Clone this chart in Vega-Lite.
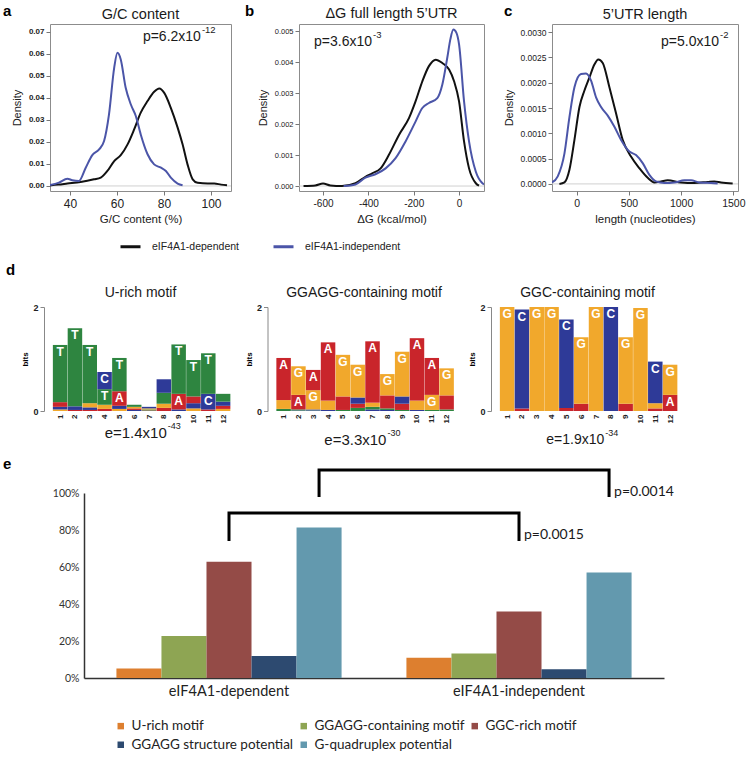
{
 "$schema": "https://vega.github.io/schema/vega-lite/v6.json",
 "padding": {"left": 2, "top": 3, "right": 5, "bottom": 5},
 "background": "white",
 "config": {
  "view": {"stroke": null},
  "font": "Liberation Sans",
  "axis": {"labelFont": "Liberation Sans", "titleFont": "Liberation Sans", "labelOverlap": false},
  "legend": {"labelFont": "Liberation Sans"},
  "title": {"font": "Liberation Sans"}
 },
 "datasets": {
  "gc": [
   {"g":"eIF4A1-dependent","x":31,"d":0.0002},{"g":"eIF4A1-dependent","x":35,"d":0.0006},{"g":"eIF4A1-dependent","x":38.9,"d":0.0011},{"g":"eIF4A1-dependent","x":44.5,"d":0.0018},{"g":"eIF4A1-dependent","x":50.2,"d":0.003},{"g":"eIF4A1-dependent","x":53.1,"d":0.0038},{"g":"eIF4A1-dependent","x":55.9,"d":0.0068},{"g":"eIF4A1-dependent","x":58.8,"d":0.0113},{"g":"eIF4A1-dependent","x":61.6,"d":0.014},{"g":"eIF4A1-dependent","x":64.5,"d":0.0189},{"g":"eIF4A1-dependent","x":67.3,"d":0.0257},{"g":"eIF4A1-dependent","x":70.1,"d":0.0333},{"g":"eIF4A1-dependent","x":73,"d":0.0386},{"g":"eIF4A1-dependent","x":75.8,"d":0.0428},{"g":"eIF4A1-dependent","x":78,"d":0.0443},{"g":"eIF4A1-dependent","x":80.1,"d":0.0423},{"g":"eIF4A1-dependent","x":82.9,"d":0.0355},{"g":"eIF4A1-dependent","x":85.8,"d":0.0265},{"g":"eIF4A1-dependent","x":87.9,"d":0.0189},{"g":"eIF4A1-dependent","x":90,"d":0.0098},{"g":"eIF4A1-dependent","x":92.2,"d":0.003},{"g":"eIF4A1-dependent","x":94.3,"d":0.0014},{"g":"eIF4A1-dependent","x":98.6,"d":0.0011},{"g":"eIF4A1-dependent","x":101.4,"d":0.0011},{"g":"eIF4A1-dependent","x":104.3,"d":0.0006},{"g":"eIF4A1-dependent","x":106.8,"d":0.0003},
   {"g":"eIF4A1-independent","x":31,"d":0.0003},{"g":"eIF4A1-independent","x":35.3,"d":0.0015},{"g":"eIF4A1-independent","x":38.9,"d":0.0033},{"g":"eIF4A1-independent","x":41,"d":0.0026},{"g":"eIF4A1-independent","x":43.8,"d":0.0023},{"g":"eIF4A1-independent","x":46.7,"d":0.0083},{"g":"eIF4A1-independent","x":49.5,"d":0.014},{"g":"eIF4A1-independent","x":52.4,"d":0.0166},{"g":"eIF4A1-independent","x":54.5,"d":0.0204},{"g":"eIF4A1-independent","x":56.6,"d":0.0325},{"g":"eIF4A1-independent","x":58.8,"d":0.0537},{"g":"eIF4A1-independent","x":60.2,"d":0.0605},{"g":"eIF4A1-independent","x":61.6,"d":0.0575},{"g":"eIF4A1-independent","x":63.7,"d":0.0446},{"g":"eIF4A1-independent","x":65.9,"d":0.037},{"g":"eIF4A1-independent","x":68,"d":0.0318},{"g":"eIF4A1-independent","x":70.1,"d":0.0234},{"g":"eIF4A1-independent","x":73,"d":0.0144},{"g":"eIF4A1-independent","x":75.8,"d":0.0098},{"g":"eIF4A1-independent","x":78.7,"d":0.0083},{"g":"eIF4A1-independent","x":80.8,"d":0.0068},{"g":"eIF4A1-independent","x":82.9,"d":0.0038},{"g":"eIF4A1-independent","x":85.8,"d":0.0011},{"g":"eIF4A1-independent","x":87.9,"d":0.0003}
  ],
  "dg": [
   {"g":"eIF4A1-dependent","x":-686,"d":0},{"g":"eIF4A1-dependent","x":-634,"d":0.00002},{"g":"eIF4A1-dependent","x":-600,"d":0.00008},{"g":"eIF4A1-dependent","x":-568,"d":0.00002},{"g":"eIF4A1-dependent","x":-516,"d":0},{"g":"eIF4A1-dependent","x":-457,"d":0.00009},{"g":"eIF4A1-dependent","x":-413,"d":0.0003},{"g":"eIF4A1-dependent","x":-383,"d":0.00041},{"g":"eIF4A1-dependent","x":-346,"d":0.00057},{"g":"eIF4A1-dependent","x":-310,"d":0.001},{"g":"eIF4A1-dependent","x":-265,"d":0.00165},{"g":"eIF4A1-dependent","x":-221,"d":0.00219},{"g":"eIF4A1-dependent","x":-192,"d":0.00273},{"g":"eIF4A1-dependent","x":-162,"d":0.00338},{"g":"eIF4A1-dependent","x":-133,"d":0.00387},{"g":"eIF4A1-dependent","x":-103,"d":0.00408},{"g":"eIF4A1-dependent","x":-74,"d":0.00397},{"g":"eIF4A1-dependent","x":-44,"d":0.00376},{"g":"eIF4A1-dependent","x":-22,"d":0.00338},{"g":"eIF4A1-dependent","x":0,"d":0.00273},{"g":"eIF4A1-dependent","x":22,"d":0.00144},{"g":"eIF4A1-dependent","x":44,"d":0.00057},{"g":"eIF4A1-dependent","x":74,"d":0.00009},{"g":"eIF4A1-dependent","x":88,"d":0.00001},
   {"g":"eIF4A1-independent","x":-509,"d":0},{"g":"eIF4A1-independent","x":-457,"d":0.00005},{"g":"eIF4A1-independent","x":-413,"d":0.00027},{"g":"eIF4A1-independent","x":-369,"d":0.00038},{"g":"eIF4A1-independent","x":-324,"d":0.00057},{"g":"eIF4A1-independent","x":-280,"d":0.0009},{"g":"eIF4A1-independent","x":-236,"d":0.00144},{"g":"eIF4A1-independent","x":-192,"d":0.00208},{"g":"eIF4A1-independent","x":-162,"d":0.00252},{"g":"eIF4A1-independent","x":-133,"d":0.00268},{"g":"eIF4A1-independent","x":-96,"d":0.00284},{"g":"eIF4A1-independent","x":-74,"d":0.00327},{"g":"eIF4A1-independent","x":-52,"d":0.00414},{"g":"eIF4A1-independent","x":-38,"d":0.00475},{"g":"eIF4A1-independent","x":-25,"d":0.00505},{"g":"eIF4A1-independent","x":-12,"d":0.00495},{"g":"eIF4A1-independent","x":0,"d":0.00457},{"g":"eIF4A1-independent","x":22,"d":0.00273},{"g":"eIF4A1-independent","x":44,"d":0.00144},{"g":"eIF4A1-independent","x":74,"d":0.00046},{"g":"eIF4A1-independent","x":103,"d":0.00009},{"g":"eIF4A1-independent","x":110,"d":0.00005}
  ],
  "len": [
   {"g":"eIF4A1-dependent","x":-166,"d":0},{"g":"eIF4A1-dependent","x":-118,"d":0.00003},{"g":"eIF4A1-dependent","x":-70,"d":0.00028},{"g":"eIF4A1-dependent","x":-22,"d":0.00087},{"g":"eIF4A1-dependent","x":26,"d":0.00152},{"g":"eIF4A1-dependent","x":73,"d":0.00184},{"g":"eIF4A1-dependent","x":121,"d":0.0021},{"g":"eIF4A1-dependent","x":169,"d":0.00236},{"g":"eIF4A1-dependent","x":207,"d":0.00246},{"g":"eIF4A1-dependent","x":249,"d":0.00239},{"g":"eIF4A1-dependent","x":313,"d":0.00191},{"g":"eIF4A1-dependent","x":377,"d":0.00139},{"g":"eIF4A1-dependent","x":440,"d":0.00087},{"g":"eIF4A1-dependent","x":520,"d":0.00054},{"g":"eIF4A1-dependent","x":600,"d":0.00031},{"g":"eIF4A1-dependent","x":680,"d":0.00012},{"g":"eIF4A1-dependent","x":744,"d":0.00003},{"g":"eIF4A1-dependent","x":808,"d":0.00005},{"g":"eIF4A1-dependent","x":871,"d":0.00007},{"g":"eIF4A1-dependent","x":999,"d":0.00003},{"g":"eIF4A1-dependent","x":1127,"d":0.00002},{"g":"eIF4A1-dependent","x":1254,"d":0.00004},{"g":"eIF4A1-dependent","x":1318,"d":0.00005},{"g":"eIF4A1-dependent","x":1382,"d":0.00003},{"g":"eIF4A1-dependent","x":1494,"d":0.00001},
   {"g":"eIF4A1-independent","x":-236,"d":0.00003},{"g":"eIF4A1-independent","x":-182,"d":0.00015},{"g":"eIF4A1-independent","x":-118,"d":0.0006},{"g":"eIF4A1-independent","x":-70,"d":0.00132},{"g":"eIF4A1-independent","x":-22,"d":0.00191},{"g":"eIF4A1-independent","x":41,"d":0.00217},{"g":"eIF4A1-independent","x":89,"d":0.00218},{"g":"eIF4A1-independent","x":137,"d":0.00204},{"g":"eIF4A1-independent","x":185,"d":0.00171},{"g":"eIF4A1-independent","x":233,"d":0.00152},{"g":"eIF4A1-independent","x":297,"d":0.00135},{"g":"eIF4A1-independent","x":361,"d":0.00113},{"g":"eIF4A1-independent","x":425,"d":0.00087},{"g":"eIF4A1-independent","x":504,"d":0.00064},{"g":"eIF4A1-independent","x":568,"d":0.00057},{"g":"eIF4A1-independent","x":632,"d":0.00041},{"g":"eIF4A1-independent","x":696,"d":0.00018},{"g":"eIF4A1-independent","x":760,"d":0.00005},{"g":"eIF4A1-independent","x":839,"d":0.00002},{"g":"eIF4A1-independent","x":935,"d":0.00003},{"g":"eIF4A1-independent","x":1031,"d":0.00007},{"g":"eIF4A1-independent","x":1095,"d":0.00007},{"g":"eIF4A1-independent","x":1175,"d":0.00003},{"g":"eIF4A1-independent","x":1286,"d":0.00002},{"g":"eIF4A1-independent","x":1350,"d":0.00001}
  ],
  "urich": [
   {"pos":1,"base":"G","bits":0.03},{"pos":1,"base":"C","bits":0.05},{"pos":1,"base":"A","bits":0.09},{"pos":1,"base":"T","bits":1.1},
   {"pos":2,"base":"A","bits":0.02},{"pos":2,"base":"C","bits":0.07},{"pos":2,"base":"T","bits":1.5},
   {"pos":3,"base":"A","bits":0.02},{"pos":3,"base":"C","bits":0.05},{"pos":3,"base":"G","bits":0.08},{"pos":3,"base":"T","bits":1.12},
   {"pos":4,"base":"A","bits":0.04},{"pos":4,"base":"G","bits":0.08},{"pos":4,"base":"T","bits":0.3},{"pos":4,"base":"C","bits":0.33},
   {"pos":5,"base":"G","bits":0.04},{"pos":5,"base":"C","bits":0.06},{"pos":5,"base":"A","bits":0.28},{"pos":5,"base":"T","bits":0.64},
   {"pos":6,"base":"C","bits":0.02},{"pos":6,"base":"A","bits":0.03},{"pos":6,"base":"G","bits":0.03},{"pos":6,"base":"T","bits":0.04},
   {"pos":7,"base":"A","bits":0.01},{"pos":7,"base":"T","bits":0.02},{"pos":7,"base":"G","bits":0.02},{"pos":7,"base":"C","bits":0.03},
   {"pos":8,"base":"A","bits":0.06},{"pos":8,"base":"G","bits":0.08},{"pos":8,"base":"T","bits":0.21},{"pos":8,"base":"C","bits":0.26},
   {"pos":9,"base":"C","bits":0.03},{"pos":9,"base":"A","bits":0.3},{"pos":9,"base":"T","bits":0.95},
   {"pos":10,"base":"G","bits":0.05},{"pos":10,"base":"C","bits":0.1},{"pos":10,"base":"A","bits":0.13},{"pos":10,"base":"T","bits":0.7},
   {"pos":11,"base":"A","bits":0.03},{"pos":11,"base":"C","bits":0.3},{"pos":11,"base":"T","bits":0.78},
   {"pos":12,"base":"G","bits":0.04},{"pos":12,"base":"A","bits":0.06},{"pos":12,"base":"C","bits":0.08},{"pos":12,"base":"T","bits":0.15}
  ],
  "ggagg": [
   {"pos":1,"base":"T","bits":0.04},{"pos":1,"base":"G","bits":0.17},{"pos":1,"base":"A","bits":0.81},
   {"pos":2,"base":"C","bits":0.01},{"pos":2,"base":"T","bits":0.02},{"pos":2,"base":"A","bits":0.28},{"pos":2,"base":"G","bits":0.55},
   {"pos":3,"base":"T","bits":0.01},{"pos":3,"base":"C","bits":0.02},{"pos":3,"base":"G","bits":0.37},{"pos":3,"base":"A","bits":0.39},
   {"pos":4,"base":"C","bits":0.02},{"pos":4,"base":"G","bits":0.18},{"pos":4,"base":"A","bits":1.12},
   {"pos":5,"base":"T","bits":0.02},{"pos":5,"base":"A","bits":0.26},{"pos":5,"base":"G","bits":0.8},
   {"pos":6,"base":"T","bits":0.06},{"pos":6,"base":"A","bits":0.08},{"pos":6,"base":"C","bits":0.12},{"pos":6,"base":"G","bits":0.63},
   {"pos":7,"base":"C","bits":0.03},{"pos":7,"base":"T","bits":0.05},{"pos":7,"base":"G","bits":0.08},{"pos":7,"base":"A","bits":1.18},
   {"pos":8,"base":"C","bits":0.02},{"pos":8,"base":"T","bits":0.03},{"pos":8,"base":"A","bits":0.25},{"pos":8,"base":"G","bits":0.41},
   {"pos":9,"base":"T","bits":0.02},{"pos":9,"base":"A","bits":0.12},{"pos":9,"base":"C","bits":0.14},{"pos":9,"base":"G","bits":0.86},
   {"pos":10,"base":"C","bits":0.02},{"pos":10,"base":"G","bits":0.18},{"pos":10,"base":"A","bits":1.2},
   {"pos":11,"base":"T","bits":0.02},{"pos":11,"base":"G","bits":0.29},{"pos":11,"base":"A","bits":0.71},
   {"pos":12,"base":"T","bits":0.03},{"pos":12,"base":"A","bits":0.27},{"pos":12,"base":"G","bits":0.52}
  ],
  "ggc": [
   {"pos":1,"base":"G","bits":2.0},
   {"pos":2,"base":"A","bits":0.05},{"pos":2,"base":"C","bits":1.9},
   {"pos":3,"base":"G","bits":2.0},
   {"pos":4,"base":"G","bits":2.0},
   {"pos":5,"base":"A","bits":0.06},{"pos":5,"base":"C","bits":1.7},
   {"pos":6,"base":"A","bits":0.14},{"pos":6,"base":"G","bits":1.28},
   {"pos":7,"base":"G","bits":2.0},
   {"pos":8,"base":"C","bits":2.0},
   {"pos":9,"base":"A","bits":0.14},{"pos":9,"base":"G","bits":1.28},
   {"pos":10,"base":"G","bits":1.98},
   {"pos":11,"base":"A","bits":0.05},{"pos":11,"base":"G","bits":0.1},{"pos":11,"base":"C","bits":0.8},
   {"pos":12,"base":"A","bits":0.31},{"pos":12,"base":"G","bits":0.58}
  ],
  "bars": [
   {"group":"eIF4A1-dependent","cat":"U-rich motif","pct":5.2},
   {"group":"eIF4A1-dependent","cat":"GGAGG-containing motif","pct":22.7},
   {"group":"eIF4A1-dependent","cat":"GGC-rich motif","pct":62.9},
   {"group":"eIF4A1-dependent","cat":"GGAGG structure potential","pct":11.9},
   {"group":"eIF4A1-dependent","cat":"G-quadruplex potential","pct":81.3},
   {"group":"eIF4A1-independent","cat":"U-rich motif","pct":11.0},
   {"group":"eIF4A1-independent","cat":"GGAGG-containing motif","pct":13.2},
   {"group":"eIF4A1-independent","cat":"GGC-rich motif","pct":35.9},
   {"group":"eIF4A1-independent","cat":"GGAGG structure potential","pct":4.7},
   {"group":"eIF4A1-independent","cat":"G-quadruplex potential","pct":57.0}
  ],
  "brackets": [
   {"b":1,"seq":1,"group":"eIF4A1-dependent","cat":"GGC-rich motif","y":74},
   {"b":1,"seq":2,"group":"eIF4A1-dependent","cat":"GGC-rich motif","y":89.2},
   {"b":1,"seq":3,"group":"eIF4A1-independent","cat":"GGC-rich motif","y":89.2},
   {"b":1,"seq":4,"group":"eIF4A1-independent","cat":"GGC-rich motif","y":74},
   {"b":2,"seq":1,"group":"eIF4A1-dependent","cat":"G-quadruplex potential","y":97.8},
   {"b":2,"seq":2,"group":"eIF4A1-dependent","cat":"G-quadruplex potential","y":112.4},
   {"b":2,"seq":3,"group":"eIF4A1-independent","cat":"G-quadruplex potential","y":112.4},
   {"b":2,"seq":4,"group":"eIF4A1-independent","cat":"G-quadruplex potential","y":97.8}
  ],
  "plabels": [
   {"group":"eIF4A1-independent","cat":"GGC-rich motif","y":77.3,"label":"p=0.0015"},
   {"group":"eIF4A1-independent","cat":"G-quadruplex potential","y":100.5,"label":"p=0.0014"}
  ]
 },
 "vconcat": [
  {
   "hconcat": [
    {"width": 6, "height": 10, "data": {"values": []}, "mark": "point", "encoding": {}},
    {
     "hconcat": [
      {
       "width": 181, "height": 167,
       "view": {"stroke": "#8c8c8c"},
       "title": {"text": "G/C content", "fontSize": 14.5, "fontWeight": "normal", "offset": 6, "dy": 24, "color": "#1a1a1a"},
       "layer": [
        {"data": {"values": [{}]}, "mark": {"type": "rule", "color": "#d0d0d0", "strokeWidth": 1}, "encoding": {"y": {"datum": 0, "type": "quantitative"}}},
        {"data": {"name": "gc"}, "mark": {"type": "line", "strokeWidth": 2, "interpolate": "monotone", "clip": true},
         "encoding": {
          "x": {"field": "x", "type": "quantitative", "scale": {"domain": [31.5, 108.5], "nice": false, "zero": false},
                "axis": {"title": "G/C content  (%)", "values": [40, 60, 80, 100], "tickCount": 30, "grid": false, "domain": false, "tickSize": 4, "tickColor": "#777", "labelFontSize": 12, "labelColor": "#222", "labelPadding": 3, "titleFontSize": 11.5, "titleFontWeight": "normal", "titleColor": "#222", "titlePadding": 4}},
          "y": {"field": "d", "type": "quantitative", "scale": {"domain": [-0.0023, 0.0736], "nice": false, "zero": false},
                "axis": {"title": "Density", "values": [0, 0.01, 0.02, 0.03, 0.04, 0.05, 0.06, 0.07], "tickCount": 30, "format": ".2f", "grid": false, "domain": false, "tickSize": 4, "tickColor": "#777", "labelFontSize": 8, "labelFontWeight": "bold", "labelColor": "#222", "labelPadding": 2, "titleFontSize": 11, "titleFontWeight": "normal", "titleColor": "#222", "titlePadding": 6}},
          "color": {"field": "g", "type": "nominal", "scale": {"domain": ["eIF4A1-dependent", "eIF4A1-independent"], "range": ["#111111", "#4b55a8"]},
                    "legend": {"orient": "none", "legendX": 69, "legendY": 211, "direction": "horizontal", "columns": 2, "title": null, "symbolType": "stroke", "symbolStrokeWidth": 3, "symbolSize": 400, "labelFontSize": 10.5, "labelColor": "#222", "labelOffset": 10, "columnPadding": 28, "padding": 0}}
         }},
        {"data": {"values": [{}]}, "mark": {"type": "text", "align": "right", "baseline": "middle", "fontSize": 14, "color": "#1a1a1a"},
         "encoding": {"x": {"datum": 95.7, "type": "quantitative"}, "y": {"datum": 0.0677, "type": "quantitative"}, "text": {"value": "p=6.2x10"}}},
        {"data": {"values": [{}]}, "mark": {"type": "text", "align": "left", "baseline": "middle", "fontSize": 9.5, "dx": 1, "dy": -7, "color": "#1a1a1a"},
         "encoding": {"x": {"datum": 95.7, "type": "quantitative"}, "y": {"datum": 0.0677, "type": "quantitative"}, "text": {"value": "-12"}}},
        {"data": {"values": [{}]}, "mark": {"type": "text", "align": "left", "baseline": "middle", "fontSize": 15, "fontWeight": "bold", "color": "#000"},
         "encoding": {"x": {"datum": 11.5, "type": "quantitative"}, "y": {"datum": 0.0795, "type": "quantitative"}, "text": {"value": "a"}}}
       ]
      },
      {
       "width": 185, "height": 167,
       "view": {"stroke": "#8c8c8c"},
       "title": {"text": "ΔG full length 5’UTR", "fontSize": 14.5, "fontWeight": "normal", "offset": 6, "dy": 24, "color": "#1a1a1a"},
       "layer": [
        {"data": {"values": [{}]}, "mark": {"type": "rule", "color": "#d0d0d0", "strokeWidth": 1}, "encoding": {"y": {"datum": 0, "type": "quantitative"}}},
        {"data": {"name": "dg"}, "mark": {"type": "line", "strokeWidth": 2, "interpolate": "monotone", "clip": true},
         "encoding": {
          "x": {"field": "x", "type": "quantitative", "scale": {"domain": [-706, 110], "nice": false, "zero": false},
                "axis": {"title": "ΔG (kcal/mol)", "values": [-600, -400, -200, 0], "tickCount": 30, "labelExpr": "'' + datum.value", "grid": false, "domain": false, "tickSize": 4, "tickColor": "#777", "labelFontSize": 10, "labelColor": "#222", "labelPadding": 3, "titleFontSize": 11.5, "titleFontWeight": "normal", "titleColor": "#222", "titlePadding": 5}},
          "y": {"field": "d", "type": "quantitative", "scale": {"domain": [-0.00016, 0.00523], "nice": false, "zero": false},
                "axis": {"title": "Density", "values": [0, 0.001, 0.002, 0.003, 0.004, 0.005], "tickCount": 30, "format": ".3f", "grid": false, "domain": false, "tickSize": 4, "tickColor": "#777", "labelFontSize": 7.5, "labelColor": "#222", "labelPadding": 2, "titleFontSize": 11, "titleFontWeight": "normal", "titleColor": "#222", "titlePadding": 6}},
          "color": {"field": "g", "type": "nominal", "scale": {"domain": ["eIF4A1-dependent", "eIF4A1-independent"], "range": ["#111111", "#4b55a8"]}, "legend": null}
         }},
        {"data": {"values": [{}]}, "mark": {"type": "text", "align": "right", "baseline": "middle", "fontSize": 14, "color": "#1a1a1a"},
         "encoding": {"x": {"datum": -384, "type": "quantitative"}, "y": {"datum": 0.00465, "type": "quantitative"}, "text": {"value": "p=3.6x10"}}},
        {"data": {"values": [{}]}, "mark": {"type": "text", "align": "left", "baseline": "middle", "fontSize": 9.5, "dx": 1, "dy": -7, "color": "#1a1a1a"},
         "encoding": {"x": {"datum": -384, "type": "quantitative"}, "y": {"datum": 0.00465, "type": "quantitative"}, "text": {"value": "-3"}}},
        {"data": {"values": [{}]}, "mark": {"type": "text", "align": "left", "baseline": "middle", "fontSize": 15, "fontWeight": "bold", "color": "#000"},
         "encoding": {"x": {"datum": -944, "type": "quantitative"}, "y": {"datum": 0.00565, "type": "quantitative"}, "text": {"value": "b"}}}
       ]
      },
      {
       "width": 186, "height": 167,
       "view": {"stroke": "#8c8c8c"},
       "title": {"text": "5’UTR length", "fontSize": 14.5, "fontWeight": "normal", "offset": 6, "dy": 24, "color": "#1a1a1a"},
       "layer": [
        {"data": {"values": [{}]}, "mark": {"type": "rule", "color": "#d0d0d0", "strokeWidth": 1}, "encoding": {"y": {"datum": 0, "type": "quantitative"}}},
        {"data": {"name": "len"}, "mark": {"type": "line", "strokeWidth": 2, "interpolate": "monotone", "clip": true},
         "encoding": {
          "x": {"field": "x", "type": "quantitative", "scale": {"domain": [-237, 1545], "nice": false, "zero": false},
                "axis": {"title": "length (nucleotides)", "values": [0, 500, 1000, 1500], "tickCount": 30, "format": "d", "grid": false, "domain": false, "tickSize": 4, "tickColor": "#777", "labelFontSize": 10.5, "labelColor": "#222", "labelPadding": 3, "titleFontSize": 11.5, "titleFontWeight": "normal", "titleColor": "#222", "titlePadding": 5}},
          "y": {"field": "d", "type": "quantitative", "scale": {"domain": [-0.00014, 0.00316], "nice": false, "zero": false},
                "axis": {"title": "Density", "values": [0, 0.0005, 0.001, 0.0015, 0.002, 0.0025, 0.003], "tickCount": 30, "format": ".4f", "grid": false, "domain": false, "tickSize": 4, "tickColor": "#777", "labelFontSize": 8.5, "labelColor": "#222", "labelPadding": 2, "titleFontSize": 11, "titleFontWeight": "normal", "titleColor": "#222", "titlePadding": 6}},
          "color": {"field": "g", "type": "nominal", "scale": {"domain": ["eIF4A1-dependent", "eIF4A1-independent"], "range": ["#111111", "#4b55a8"]}, "legend": null}
         }},
        {"data": {"values": [{}]}, "mark": {"type": "text", "align": "right", "baseline": "middle", "fontSize": 14, "color": "#1a1a1a"},
         "encoding": {"x": {"datum": 1363, "type": "quantitative"}, "y": {"datum": 0.00281, "type": "quantitative"}, "text": {"value": "p=5.0x10"}}},
        {"data": {"values": [{}]}, "mark": {"type": "text", "align": "left", "baseline": "middle", "fontSize": 9.5, "dx": 1, "dy": -7, "color": "#1a1a1a"},
         "encoding": {"x": {"datum": 1363, "type": "quantitative"}, "y": {"datum": 0.00281, "type": "quantitative"}, "text": {"value": "-2"}}},
        {"data": {"values": [{}]}, "mark": {"type": "text", "align": "left", "baseline": "middle", "fontSize": 15, "fontWeight": "bold", "color": "#000"},
         "encoding": {"x": {"datum": -697, "type": "quantitative"}, "y": {"datum": 0.00341, "type": "quantitative"}, "text": {"value": "c"}}}
       ]
      }
     ],
     "spacing": 68,
     "bounds": "flush",
     "resolve": {"scale": {"color": "independent", "x": "independent", "y": "independent"}, "legend": {"color": "independent"}}
    }
   ],
   "spacing": 0,
   "bounds": "flush",
   "resolve": {"scale": {"color": "independent", "x": "independent", "y": "independent"}, "legend": {"color": "independent"}}
  },
  {
   "title": {"text": "d", "anchor": "start", "frame": "group", "dx": -38, "offset": 8, "fontSize": 15, "fontWeight": "bold", "color": "#000"},
   "hconcat": [
    {
     "width": 193, "height": 104,
     "title": {"text": "U-rich motif", "fontSize": 14, "fontWeight": "normal", "offset": 3, "color": "#1a1a1a"},
     "layer": [
      {"data": {"name": "urich"},
       "transform": [{"stack": "bits", "groupby": ["pos"], "sort": [{"field": "bits", "order": "ascending"}], "as": ["y0", "y1"]}],
       "mark": {"type": "bar", "width": 14.5},
       "encoding": {
        "x": {"field": "pos", "type": "quantitative", "scale": {"domain": [0.25, 12.6], "nice": false, "zero": false},
              "axis": {"values": [1,2,3,4,5,6,7,8,9,10,11,12], "tickCount": 30, "format": "d", "labelAngle": -90, "labelFontSize": 8, "labelFontWeight": "bold", "labelColor": "#222", "labelPadding": 3, "ticks": false, "domain": false, "grid": false, "title": null}},
        "y": {"field": "y0", "type": "quantitative", "scale": {"domain": [0, 2], "nice": false},
              "axis": {"values": [0, 1, 2], "tickCount": 30, "format": "d", "title": "bits", "titleFontSize": 8, "titleFontWeight": "bold", "titlePadding": 3, "labelFontSize": 9, "labelFontWeight": "bold", "labelColor": "#222", "labelPadding": 2, "tickSize": 4, "tickColor": "#888", "domainColor": "#888", "grid": false}},
        "y2": {"field": "y1"},
        "color": {"field": "base", "type": "nominal", "scale": {"domain": ["A", "C", "G", "T"], "range": ["#c9252b", "#2e3a98", "#f1a82c", "#2e8540"]}, "legend": null}
       }},
      {"data": {"name": "urich"},
       "transform": [{"stack": "bits", "groupby": ["pos"], "sort": [{"field": "bits", "order": "ascending"}], "as": ["y0", "y1"]}, {"filter": "datum.bits >= 0.28"}],
       "mark": {"type": "text", "color": "white", "fontWeight": "bold", "fontSize": 12, "baseline": "top", "dy": 2},
       "encoding": {"x": {"field": "pos", "type": "quantitative"}, "y": {"field": "y1", "type": "quantitative"}, "text": {"field": "base"}}},
      {"data": {"values": [{}]}, "mark": {"type": "text", "align": "right", "baseline": "middle", "fontSize": 15, "color": "#1a1a1a"},
       "encoding": {"x": {"datum": 8.2, "type": "quantitative"}, "y": {"datum": -0.42, "type": "quantitative"}, "text": {"value": "e=1.4x10"}}},
      {"data": {"values": [{}]}, "mark": {"type": "text", "align": "left", "baseline": "middle", "fontSize": 9, "dx": 1, "dy": -7, "color": "#1a1a1a"},
       "encoding": {"x": {"datum": 8.2, "type": "quantitative"}, "y": {"datum": -0.42, "type": "quantitative"}, "text": {"value": "-43"}}}
     ]
    },
    {
     "width": 193, "height": 104,
     "title": {"text": "GGAGG-containing motif", "fontSize": 14, "fontWeight": "normal", "offset": 3, "color": "#1a1a1a"},
     "layer": [
      {"data": {"name": "ggagg"},
       "transform": [{"stack": "bits", "groupby": ["pos"], "sort": [{"field": "bits", "order": "ascending"}], "as": ["y0", "y1"]}],
       "mark": {"type": "bar", "width": 14.5},
       "encoding": {
        "x": {"field": "pos", "type": "quantitative", "scale": {"domain": [0.25, 12.6], "nice": false, "zero": false},
              "axis": {"values": [1,2,3,4,5,6,7,8,9,10,11,12], "tickCount": 30, "format": "d", "labelAngle": -90, "labelFontSize": 8, "labelFontWeight": "bold", "labelColor": "#222", "labelPadding": 3, "ticks": false, "domain": false, "grid": false, "title": null}},
        "y": {"field": "y0", "type": "quantitative", "scale": {"domain": [0, 2], "nice": false},
              "axis": {"values": [0, 1, 2], "tickCount": 30, "format": "d", "title": "bits", "titleFontSize": 8, "titleFontWeight": "bold", "titlePadding": 3, "labelFontSize": 9, "labelFontWeight": "bold", "labelColor": "#222", "labelPadding": 2, "tickSize": 4, "tickColor": "#888", "domainColor": "#888", "grid": false}},
        "y2": {"field": "y1"},
        "color": {"field": "base", "type": "nominal", "scale": {"domain": ["A", "C", "G", "T"], "range": ["#c9252b", "#2e3a98", "#f1a82c", "#2e8540"]}, "legend": null}
       }},
      {"data": {"name": "ggagg"},
       "transform": [{"stack": "bits", "groupby": ["pos"], "sort": [{"field": "bits", "order": "ascending"}], "as": ["y0", "y1"]}, {"filter": "datum.bits >= 0.28"}],
       "mark": {"type": "text", "color": "white", "fontWeight": "bold", "fontSize": 12, "baseline": "top", "dy": 2},
       "encoding": {"x": {"field": "pos", "type": "quantitative"}, "y": {"field": "y1", "type": "quantitative"}, "text": {"field": "base"}}},
      {"data": {"values": [{}]}, "mark": {"type": "text", "align": "right", "baseline": "middle", "fontSize": 15, "color": "#1a1a1a"},
       "encoding": {"x": {"datum": 7.94, "type": "quantitative"}, "y": {"datum": -0.55, "type": "quantitative"}, "text": {"value": "e=3.3x10"}}},
      {"data": {"values": [{}]}, "mark": {"type": "text", "align": "left", "baseline": "middle", "fontSize": 9, "dx": 1, "dy": -7, "color": "#1a1a1a"},
       "encoding": {"x": {"datum": 7.94, "type": "quantitative"}, "y": {"datum": -0.55, "type": "quantitative"}, "text": {"value": "-30"}}}
     ]
    },
    {
     "width": 193, "height": 104,
     "title": {"text": "GGC-containing motif", "fontSize": 14, "fontWeight": "normal", "offset": 3, "color": "#1a1a1a"},
     "layer": [
      {"data": {"name": "ggc"},
       "transform": [{"stack": "bits", "groupby": ["pos"], "sort": [{"field": "bits", "order": "ascending"}], "as": ["y0", "y1"]}],
       "mark": {"type": "bar", "width": 14.5},
       "encoding": {
        "x": {"field": "pos", "type": "quantitative", "scale": {"domain": [0.25, 12.6], "nice": false, "zero": false},
              "axis": {"values": [1,2,3,4,5,6,7,8,9,10,11,12], "tickCount": 30, "format": "d", "labelAngle": -90, "labelFontSize": 8, "labelFontWeight": "bold", "labelColor": "#222", "labelPadding": 3, "ticks": false, "domain": false, "grid": false, "title": null}},
        "y": {"field": "y0", "type": "quantitative", "scale": {"domain": [0, 2], "nice": false},
              "axis": {"values": [0, 1, 2], "tickCount": 30, "format": "d", "title": "bits", "titleFontSize": 8, "titleFontWeight": "bold", "titlePadding": 3, "labelFontSize": 9, "labelFontWeight": "bold", "labelColor": "#222", "labelPadding": 2, "tickSize": 4, "tickColor": "#888", "domainColor": "#888", "grid": false}},
        "y2": {"field": "y1"},
        "color": {"field": "base", "type": "nominal", "scale": {"domain": ["A", "C", "G", "T"], "range": ["#c9252b", "#2e3a98", "#f1a82c", "#2e8540"]}, "legend": null}
       }},
      {"data": {"name": "ggc"},
       "transform": [{"stack": "bits", "groupby": ["pos"], "sort": [{"field": "bits", "order": "ascending"}], "as": ["y0", "y1"]}, {"filter": "datum.bits >= 0.28"}],
       "mark": {"type": "text", "color": "white", "fontWeight": "bold", "fontSize": 12, "baseline": "top", "dy": 2},
       "encoding": {"x": {"field": "pos", "type": "quantitative"}, "y": {"field": "y1", "type": "quantitative"}, "text": {"field": "base"}}},
      {"data": {"values": [{}]}, "mark": {"type": "text", "align": "right", "baseline": "middle", "fontSize": 14, "color": "#1a1a1a"},
       "encoding": {"x": {"datum": 7.56, "type": "quantitative"}, "y": {"datum": -0.55, "type": "quantitative"}, "text": {"value": "e=1.9x10"}}},
      {"data": {"values": [{}]}, "mark": {"type": "text", "align": "left", "baseline": "middle", "fontSize": 9, "dx": 1, "dy": -7, "color": "#1a1a1a"},
       "encoding": {"x": {"datum": 7.56, "type": "quantitative"}, "y": {"datum": -0.55, "type": "quantitative"}, "text": {"value": "-34"}}}
     ]
    }
   ],
   "spacing": 30.5,
   "bounds": "flush",
   "resolve": {"scale": {"color": "independent", "x": "independent", "y": "independent"}, "legend": {"color": "independent"}}
  },
  {
   "hconcat": [
    {"width": 40, "height": 10, "data": {"values": []}, "mark": "point", "encoding": {}},
    {
     "width": 580, "height": 185,
     "title": {"text": "e", "anchor": "start", "frame": "group", "fontSize": 15, "fontWeight": "bold", "dx": -81, "offset": -8, "color": "#000"},
     "layer": [
      {"data": {"name": "bars"}, "mark": {"type": "bar"},
       "encoding": {
        "x": {"field": "group", "type": "nominal", "scale": {"paddingInner": 0, "paddingOuter": 0},
              "axis": {"title": null, "labelAngle": 0, "labelFont": "Lato", "labelFontSize": 14.5, "labelColor": "#222", "ticks": false, "domainColor": "#333", "domainWidth": 1.5, "labelPadding": 6}},
        "xOffset": {"field": "cat", "type": "nominal", "scale": {"domain": ["U-rich motif", "GGAGG-containing motif", "GGC-rich motif", "GGAGG structure potential", "G-quadruplex potential"], "paddingInner": 0, "paddingOuter": 0.72}},
        "y": {"field": "pct", "type": "quantitative", "scale": {"domain": [0, 100], "nice": false},
              "axis": {"title": null, "values": [0, 20, 40, 60, 80, 100], "tickCount": 30, "labelExpr": "datum.value + '%'", "grid": false, "ticks": false, "domainColor": "#333", "domainWidth": 1.5, "labelFont": "Lato", "labelFontSize": 10.5, "labelColor": "#333", "labelPadding": 5}},
        "color": {"field": "cat", "type": "nominal",
                  "scale": {"domain": ["U-rich motif", "GGAGG-containing motif", "GGC-rich motif", "GGAGG structure potential", "G-quadruplex potential"], "range": ["#dd7f2f", "#8ea553", "#944b47", "#2d4a70", "#6399ae"]},
                  "legend": {"orient": "none", "legendX": 30, "legendY": 226, "direction": "horizontal", "columns": 3, "title": null, "symbolType": "square", "symbolSize": 42, "symbolStrokeWidth": 0, "labelFont": "Lato", "labelFontSize": 13.5, "labelLimit": 400, "labelColor": "#222", "labelOffset": 4, "columnPadding": 3, "rowPadding": 4, "padding": 0}}
       }},
      {"data": {"name": "brackets"}, "mark": {"type": "line", "color": "#000", "strokeWidth": 3, "strokeJoin": "miter"},
       "encoding": {
        "x": {"field": "group", "type": "nominal", "title": null},
        "xOffset": {"field": "cat", "type": "nominal"},
        "y": {"field": "y", "type": "quantitative", "title": null},
        "detail": {"field": "b", "type": "nominal"},
        "order": {"field": "seq", "type": "quantitative"}
       }},
      {"data": {"name": "plabels"}, "mark": {"type": "text", "align": "left", "baseline": "middle", "dx": 5, "fontSize": 14, "font": "Lato", "color": "#1a1a1a"},
       "encoding": {
        "x": {"field": "group", "type": "nominal", "title": null},
        "xOffset": {"field": "cat", "type": "nominal"},
        "y": {"field": "y", "type": "quantitative", "title": null},
        "text": {"field": "label"}
       }}
     ]
    }
   ],
   "spacing": 0,
   "bounds": "flush",
   "resolve": {"scale": {"color": "independent", "x": "independent", "y": "independent"}, "legend": {"color": "independent"}}
  }
 ],
 "spacing": 9,
 "resolve": {"scale": {"color": "independent", "x": "independent", "y": "independent"}, "legend": {"color": "independent"}}
}
